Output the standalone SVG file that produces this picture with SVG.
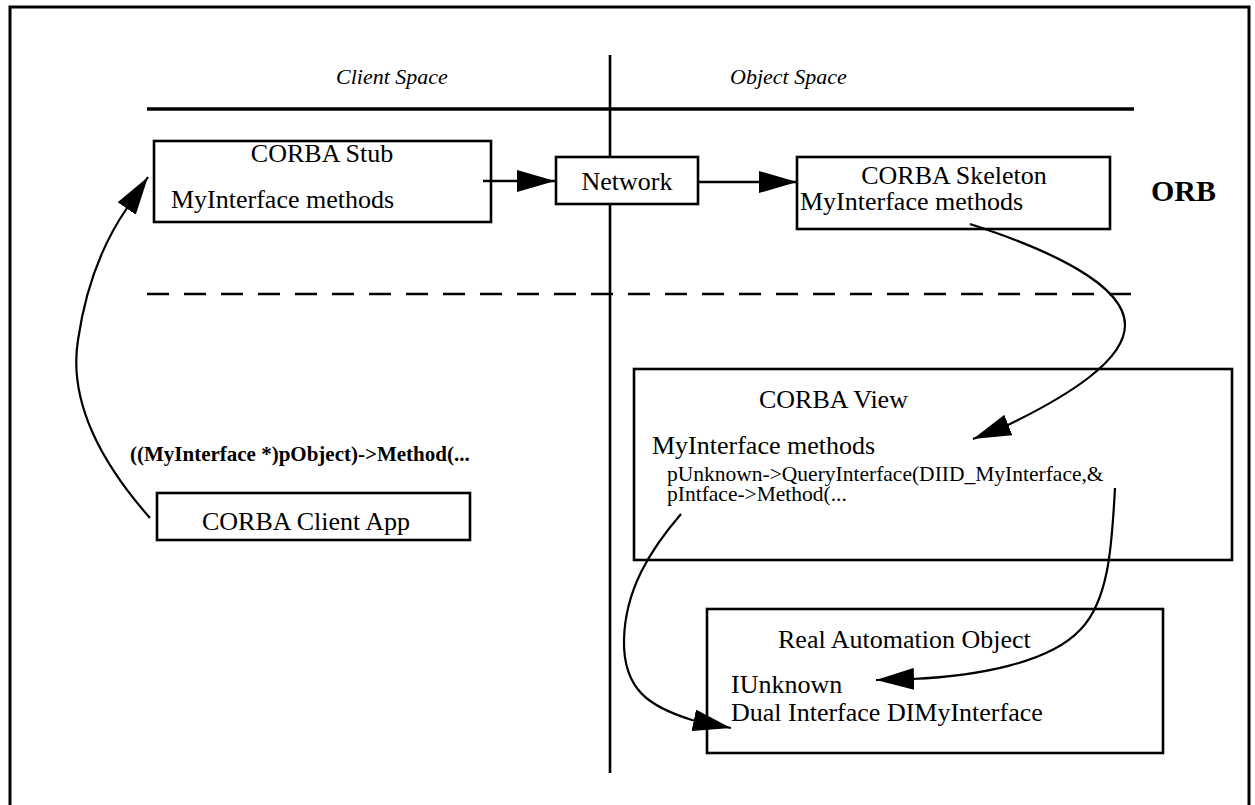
<svg xmlns="http://www.w3.org/2000/svg" width="1255" height="805" viewBox="0 0 1255 805">
<defs>
<style>
.box{fill:#fff;stroke:#000;stroke-width:2.6}
.t{font-family:"Liberation Serif","Times New Roman",serif;font-size:26px;fill:#000}
.s{font-size:21.5px}
.it{font-family:"Liberation Serif","Times New Roman",serif;font-style:italic;font-size:22px;fill:#000}
.b{font-weight:bold}
.ln{fill:none;stroke:#000;stroke-width:2.6}
.cv{fill:none;stroke:#000;stroke-width:2.2;marker-end:url(#ah)}
</style>
<marker id="ah" viewBox="0 0 38 22" refX="38" refY="11" markerWidth="38" markerHeight="22" markerUnits="userSpaceOnUse" orient="auto">
<path d="M0,0 L38,11 L0,22 z" fill="#000"/>
</marker>
</defs>
<rect width="1255" height="805" fill="#fff"/>
<g id="frame">
<rect x="10" y="7" width="1239" height="830" fill="none" stroke="#000" stroke-width="3"/>
<line class="ln" x1="610" y1="55" x2="610" y2="773"/>
<line x1="147" y1="109" x2="1134" y2="109" stroke="#000" stroke-width="3.5"/>
<line x1="147" y1="294" x2="1134" y2="294" stroke="#000" stroke-width="2.4" stroke-dasharray="22 15"/>
<text class="it" x="336" y="84">Client Space</text>
<text class="it" x="730" y="84">Object Space</text>
<text class="t b" x="1151" y="201" style="font-size:30px">ORB</text>
</g>
<g id="stub">
<rect class="box" x="154" y="141" width="337" height="81"/>
<text class="t" x="322" y="162" text-anchor="middle">CORBA Stub</text>
<text class="t" x="171" y="208">MyInterface methods</text>
</g>
<g id="network">
<rect class="box" x="556" y="157" width="142" height="47"/>
<text class="t" x="627" y="190" text-anchor="middle">Network</text>
</g>
<g id="skeleton">
<rect class="box" x="797" y="157" width="313" height="72"/>
<text class="t" x="954" y="184" text-anchor="middle">CORBA Skeleton</text>
<text class="t" x="800" y="210">MyInterface methods</text>
</g>
<g id="client-app">
<rect class="box" x="157" y="493" width="313" height="47"/>
<text class="t" x="202" y="530">CORBA Client App</text>
</g>
<g id="corba-view">
<rect class="box" x="634" y="369" width="598" height="191"/>
<text class="t" x="759" y="408">CORBA View</text>
<text class="t" x="652" y="454">MyInterface methods</text>
<text class="t s" x="667" y="481">pUnknown-&gt;QueryInterface(DIID_MyInterface,&amp;</text>
<text class="t s" x="667" y="501">pIntface-&gt;Method(...</text>
</g>
<g id="real-object">
<rect class="box" x="707" y="609" width="456" height="144"/>
<text class="t" x="778" y="648">Real Automation Object</text>
<text class="t" x="731" y="693">IUnknown</text>
<text class="t" x="731" y="721">Dual Interface DIMyInterface</text>
</g>
<g id="connectors">
<path class="ln" d="M483,181 L555,181" style="marker-end:url(#ah)"/>
<path class="ln" d="M698,182 L797,182" style="marker-end:url(#ah)"/>
<path class="cv" d="M150,518 C90,450 70,390 78,340 C86,285 105,240 127,208 L148,177"/>
<path class="cv" d="M970,224 C1050,250 1125,285 1125,325 C1125,360 1070,395 1006,426 L973,439"/>
<path class="cv" d="M1115,488 C1112,540 1110,600 1080,630 C1050,662 980,676 912,679 L876,680"/>
<path class="cv" d="M681,514 C650,550 625,590 624,640 C623,690 650,707 692,720 L731,728"/>
<text class="t b" x="130" y="461" style="font-size:21px">((MyInterface *)pObject)-&gt;Method(...</text>
</g>
</svg>
